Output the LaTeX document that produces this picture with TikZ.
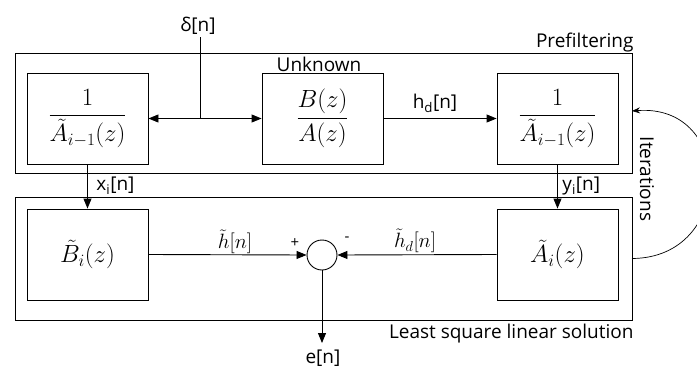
\documentclass[tikz,border=0pt]{standalone}
\usepackage{amsmath}
\usepackage[no-math]{fontspec}
\setmainfont{Open Sans}
\usetikzlibrary{arrows.meta}
\begin{document}
\begin{tikzpicture}[x=1pt,y=-1pt,
  line width=0.9pt,
  blk/.style={draw, minimum width=121pt, minimum height=91pt, inner sep=0pt, font=\fontsize{24}{28}\selectfont},
  lbl/.style={inner sep=0pt, font=\fontsize{19}{22}\selectfont},
  mlbl/.style={inner sep=0pt, font=\fontsize{22}{26}\selectfont},
  sgn/.style={inner sep=0pt, font=\fontsize{15}{17}\selectfont},
  arr/.style={-{Triangle[length=10pt,width=8pt]}}]
\useasboundingbox (0,0) rectangle (697,370);
% frames
\draw (15,53) rectangle (632,173);
\draw (15,197) rectangle (632,320);
% blocks
\node[blk] (L1) at (87.5,118.5) {$\dfrac{1}{\tilde{A}_{i-1}(z)}$};
\node[blk] (U) at (322.5,118.5) {$\dfrac{B(z)}{A(z)}$};
\node[blk] (R1) at (557.5,118.5) {$\dfrac{1}{\tilde{A}_{i-1}(z)}$};
\node[blk] (L2) at (87.5,254.5) {$\tilde{B}_i(z)$};
\node[blk] (R2) at (557.5,254.5) {$\tilde{A}_i(z)$};
\node[draw, circle, minimum size=30pt, inner sep=0pt] (sum) at (322,255) {};
% labels
\node[lbl, anchor=east] (tpre) at (634,43) {Prefiltering};
\node[lbl] (tunk) at (319,64) {Unknown};
\node[lbl, anchor=east] (tlsq) at (634,334) {Least square linear solution};
\node[lbl] (tdelta) at (198,26) {δ[n]};
\node[lbl] (thd) at (435,103) {h\textsubscript{d}[n]};
\node[lbl, anchor=west] (txi) at (96,186) {x\textsubscript{i}[n]};
\node[lbl, anchor=west] (tyi) at (562,186) {y\textsubscript{i}[n]};
\node[lbl] (ten) at (323,358) {e[n]};
\node[lbl, rotate=-90] (tit) at (647,179) {Iterations};
\node[mlbl] (th) at (235,242) {$\tilde{h}[n]$};
\node[mlbl] (thd2) at (415,241) {$\tilde{h}_d[n]$};
\node[sgn] (tplus) at (295,243) {+};
\node[sgn] (tminus) at (347,239) {-};
% connectors
\coordinate (d0) at (200,37);
\coordinate (dj) at (200,118.5);
\coordinate (eout) at (322,343);
\coordinate (itA) at (632,258.5);
\coordinate (itB) at (632,111);
\draw (d0) -- (dj);
\draw[arr] (dj) -- (L1.east);
\draw[arr] (dj) -- (U.west);
\draw[arr] (U.east) -- (R1.west);
\draw[arr] (L1.south) -- (L2.north);
\draw[arr] (R1.south) -- (R2.north);
\draw[arr] (L2.east) -- (sum.west);
\draw[arr] (R2.west) -- (sum.east);
\draw[arr] (sum.south) -- (eout);
\draw[-{Stealth[length=8pt,width=6pt]}, line width=0.7pt] (itA) .. controls (735,258) and (735,103) .. (itB);
\end{tikzpicture}
\end{document}
